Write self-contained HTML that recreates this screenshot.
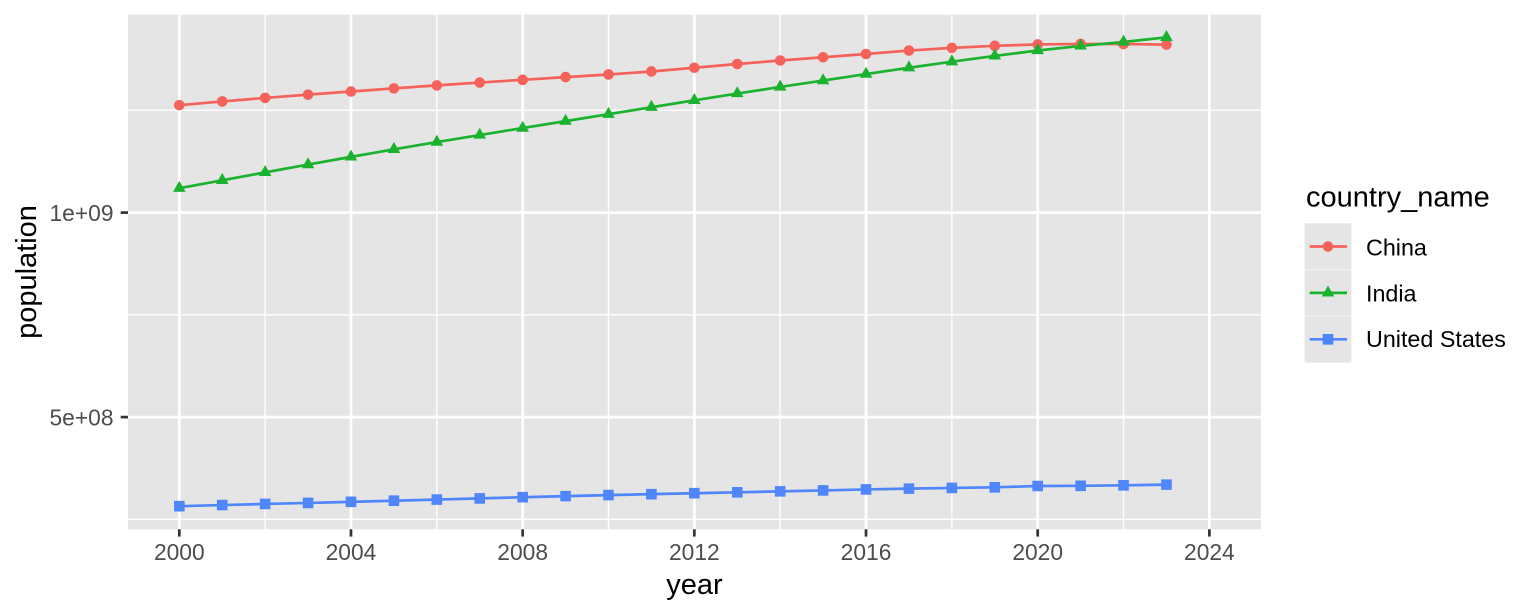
<!DOCTYPE html>
<html><head><meta charset="utf-8"><style>
html,body{margin:0;padding:0;background:#fff;}
svg{display:block;font-family:"Liberation Sans",Arial,sans-serif;}
</style></head><body>
<svg width="1536" height="614" viewBox="0 0 1536 614" xmlns="http://www.w3.org/2000/svg">
<rect x="0" y="0" width="1536" height="614" fill="#fff"/>
<rect x="128" y="14.7" width="1133" height="514.6" fill="#E5E5E5"/>
<g stroke="#fff" stroke-width="1.35">
<line x1="128" x2="1261" y1="110.35" y2="110.35"/>
<line x1="128" x2="1261" y1="314.85" y2="314.85"/>
<line x1="128" x2="1261" y1="519.35" y2="519.35"/>
<line y1="14.7" y2="529.3" x1="265.14" x2="265.14"/>
<line y1="14.7" y2="529.3" x1="436.82" x2="436.82"/>
<line y1="14.7" y2="529.3" x1="608.5" x2="608.5"/>
<line y1="14.7" y2="529.3" x1="780.18" x2="780.18"/>
<line y1="14.7" y2="529.3" x1="951.86" x2="951.86"/>
<line y1="14.7" y2="529.3" x1="1123.54" x2="1123.54"/>
</g>
<g stroke="#fff" stroke-width="2.7">
<line x1="128" x2="1261" y1="212.6" y2="212.6"/>
<line x1="128" x2="1261" y1="417.1" y2="417.1"/>
<line y1="14.7" y2="529.3" x1="179.3" x2="179.3"/>
<line y1="14.7" y2="529.3" x1="350.98" x2="350.98"/>
<line y1="14.7" y2="529.3" x1="522.66" x2="522.66"/>
<line y1="14.7" y2="529.3" x1="694.34" x2="694.34"/>
<line y1="14.7" y2="529.3" x1="866.02" x2="866.02"/>
<line y1="14.7" y2="529.3" x1="1037.7" x2="1037.7"/>
<line y1="14.7" y2="529.3" x1="1209.38" x2="1209.38"/>
</g>
<!-- lines -->
<g fill="none" stroke-width="2.7" stroke-linejoin="round">
<polyline stroke="#F5625C" points="179.30,105.18 222.22,101.41 265.14,97.92 308.06,94.64 350.98,91.51 393.90,88.38 436.82,85.39 479.74,82.59 522.66,79.82 565.58,77.11 608.50,74.48 651.42,71.48 694.34,67.74 737.26,64.03 780.18,60.51 823.10,57.24 866.02,53.99 908.94,50.55 951.86,47.87 994.78,45.83 1037.70,44.46 1080.62,43.94 1123.54,44.02 1166.46,44.62"/>
<polyline stroke="#1AB22E" points="179.30,188.21 222.22,180.30 265.14,172.39 308.06,164.58 350.98,156.87 393.90,149.35 436.82,142.10 479.74,135.02 522.66,128.05 565.58,121.13 608.50,114.19 651.42,107.23 694.34,100.33 737.26,93.53 780.18,86.94 823.10,80.55 866.02,74.10 908.94,67.73 951.86,61.68 994.78,55.91 1037.70,50.48 1080.62,45.91 1123.54,41.98 1166.46,37.29"/>
<polyline stroke="#5086FB" points="179.30,506.20 222.22,505.05 265.14,503.96 308.06,502.95 350.98,501.84 393.90,500.73 436.82,499.56 479.74,498.40 522.66,497.23 565.58,496.13 608.50,495.09 651.42,494.16 694.34,493.22 737.26,492.33 780.18,491.38 823.10,490.42 866.02,489.46 908.94,488.62 951.86,487.92 994.78,487.31 1037.70,486.01 1080.62,485.79 1123.54,485.29 1166.46,484.62"/>
</g>
<!-- China points -->
<g fill="#F5625C">
<circle cx="179.30" cy="105.18" r="5.3"/><circle cx="222.22" cy="101.41" r="5.3"/><circle cx="265.14" cy="97.92" r="5.3"/><circle cx="308.06" cy="94.64" r="5.3"/><circle cx="350.98" cy="91.51" r="5.3"/><circle cx="393.90" cy="88.38" r="5.3"/><circle cx="436.82" cy="85.39" r="5.3"/><circle cx="479.74" cy="82.59" r="5.3"/><circle cx="522.66" cy="79.82" r="5.3"/><circle cx="565.58" cy="77.11" r="5.3"/><circle cx="608.50" cy="74.48" r="5.3"/><circle cx="651.42" cy="71.48" r="5.3"/><circle cx="694.34" cy="67.74" r="5.3"/><circle cx="737.26" cy="64.03" r="5.3"/><circle cx="780.18" cy="60.51" r="5.3"/><circle cx="823.10" cy="57.24" r="5.3"/><circle cx="866.02" cy="53.99" r="5.3"/><circle cx="908.94" cy="50.55" r="5.3"/><circle cx="951.86" cy="47.87" r="5.3"/><circle cx="994.78" cy="45.83" r="5.3"/><circle cx="1037.70" cy="44.46" r="5.3"/><circle cx="1080.62" cy="43.94" r="5.3"/><circle cx="1123.54" cy="44.02" r="5.3"/><circle cx="1166.46" cy="44.62" r="5.3"/>
</g>
<!-- India points -->
<g fill="#1AB22E">
<path d="M179.30,180.91 l6.3,10.95 h-12.6z M222.22,173.00 l6.3,10.95 h-12.6z M265.14,165.09 l6.3,10.95 h-12.6z M308.06,157.28 l6.3,10.95 h-12.6z M350.98,149.57 l6.3,10.95 h-12.6z M393.90,142.05 l6.3,10.95 h-12.6z M436.82,134.80 l6.3,10.95 h-12.6z M479.74,127.72 l6.3,10.95 h-12.6z M522.66,120.75 l6.3,10.95 h-12.6z M565.58,113.83 l6.3,10.95 h-12.6z M608.50,106.89 l6.3,10.95 h-12.6z M651.42,99.93 l6.3,10.95 h-12.6z M694.34,93.03 l6.3,10.95 h-12.6z M737.26,86.23 l6.3,10.95 h-12.6z M780.18,79.64 l6.3,10.95 h-12.6z M823.10,73.25 l6.3,10.95 h-12.6z M866.02,66.80 l6.3,10.95 h-12.6z M908.94,60.43 l6.3,10.95 h-12.6z M951.86,54.38 l6.3,10.95 h-12.6z M994.78,48.61 l6.3,10.95 h-12.6z M1037.70,43.18 l6.3,10.95 h-12.6z M1080.62,38.61 l6.3,10.95 h-12.6z M1123.54,34.68 l6.3,10.95 h-12.6z M1166.46,29.99 l6.3,10.95 h-12.6z"/>
</g>
<!-- US points -->
<g fill="#5086FB">
<path d="M174.0,500.9 h10.6 v10.6 h-10.6z M216.92,499.75 h10.6 v10.6 h-10.6z M259.84,498.66 h10.6 v10.6 h-10.6z M302.76,497.65 h10.6 v10.6 h-10.6z M345.68,496.54 h10.6 v10.6 h-10.6z M388.60,495.43 h10.6 v10.6 h-10.6z M431.52,494.26 h10.6 v10.6 h-10.6z M474.44,493.10 h10.6 v10.6 h-10.6z M517.36,491.93 h10.6 v10.6 h-10.6z M560.28,490.83 h10.6 v10.6 h-10.6z M603.20,489.79 h10.6 v10.6 h-10.6z M646.12,488.86 h10.6 v10.6 h-10.6z M689.04,487.92 h10.6 v10.6 h-10.6z M731.96,487.03 h10.6 v10.6 h-10.6z M774.88,486.08 h10.6 v10.6 h-10.6z M817.80,485.12 h10.6 v10.6 h-10.6z M860.72,484.16 h10.6 v10.6 h-10.6z M903.64,483.32 h10.6 v10.6 h-10.6z M946.56,482.62 h10.6 v10.6 h-10.6z M989.48,482.01 h10.6 v10.6 h-10.6z M1032.40,480.71 h10.6 v10.6 h-10.6z M1075.32,480.49 h10.6 v10.6 h-10.6z M1118.24,479.99 h10.6 v10.6 h-10.6z M1161.16,479.32 h10.6 v10.6 h-10.6z"/>
</g>
<!-- ticks -->
<g stroke="#333333" stroke-width="2.7">
<line x1="120.7" x2="128" y1="212.6" y2="212.6"/>
<line x1="120.7" x2="128" y1="417.1" y2="417.1"/>
<line y1="529.3" y2="536.6" x1="179.3" x2="179.3"/>
<line y1="529.3" y2="536.6" x1="350.98" x2="350.98"/>
<line y1="529.3" y2="536.6" x1="522.66" x2="522.66"/>
<line y1="529.3" y2="536.6" x1="694.34" x2="694.34"/>
<line y1="529.3" y2="536.6" x1="866.02" x2="866.02"/>
<line y1="529.3" y2="536.6" x1="1037.7" x2="1037.7"/>
<line y1="529.3" y2="536.6" x1="1209.38" x2="1209.38"/>
</g>
<g fill="#4D4D4D" font-size="22.8">
<text x="113.5" y="221.2" text-anchor="end">1e+09</text>
<text x="113.5" y="425.7" text-anchor="end">5e+08</text>
<g text-anchor="middle">
<text x="179.3" y="560">2000</text>
<text x="350.98" y="560">2004</text>
<text x="522.66" y="560">2008</text>
<text x="694.34" y="560">2012</text>
<text x="866.02" y="560">2016</text>
<text x="1037.7" y="560">2020</text>
<text x="1209.38" y="560">2024</text>
</g>
</g>
<text x="694.5" y="594" text-anchor="middle" font-size="29" fill="#000">year</text>
<text transform="translate(36,272) rotate(-90)" text-anchor="middle" font-size="29" fill="#000">population</text>
<!-- legend -->
<text x="1306" y="206.5" font-size="29" fill="#000">country_name</text>
<rect x="1304.7" y="223.3" width="46.6" height="139.3" fill="#E5E5E5"/>
<g stroke="#F2F2F2" stroke-width="1">
<line x1="1304.7" x2="1351.3" y1="269.5" y2="269.5"/>
<line x1="1304.7" x2="1351.3" y1="315.9" y2="315.9"/>
</g>
<g stroke-width="2.7">
<line x1="1309.7" x2="1347" y1="246.5" y2="246.5" stroke="#F5625C"/>
<line x1="1309.7" x2="1347" y1="292.9" y2="292.9" stroke="#1AB22E"/>
<line x1="1309.7" x2="1347" y1="339.3" y2="339.3" stroke="#5086FB"/>
</g>
<circle cx="1328" cy="246.5" r="5.3" fill="#F5625C"/>
<path d="M1328,285.6 l6.3,10.95 h-12.6z" fill="#1AB22E"/>
<rect x="1322.7" y="334" width="10.6" height="10.6" fill="#5086FB"/>
<g font-size="23.3" fill="#000">
<text x="1366" y="255.5">China</text>
<text x="1366" y="301.5">India</text>
<text x="1366" y="347">United States</text>
</g>
</svg>
</body></html>
